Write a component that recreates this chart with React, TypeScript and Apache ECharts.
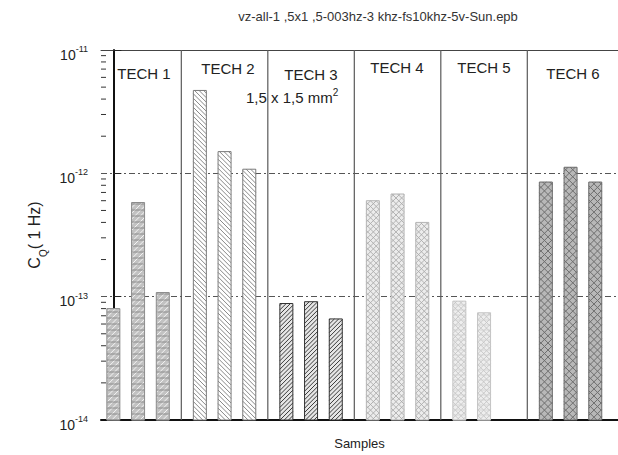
import React, { useEffect, useRef } from "react";
import * as echarts from "echarts";

// ---------- data ----------
const techNames = ["TECH 1", "TECH 2", "TECH 3", "TECH 4", "TECH 5", "TECH 6"];
const tech1 = [8.0e-14, 5.8e-13, 1.08e-13];
const tech2 = [4.7e-12, 1.5e-12, 1.08e-12];
const tech3 = [8.8e-14, 9.1e-14, 6.6e-14];
const tech4 = [6.0e-13, 6.8e-13, 4.0e-13];
const tech5 = [9.2e-14, 7.4e-14];
const tech6 = [8.5e-13, 1.12e-12, 8.5e-13];
const techValues = [tech1, tech2, tech3, tech4, tech5, tech6];
const yTickExponents = [-14, -13, -12, -11];
const titleText = "vz-all-1 ,5x1 ,5-003hz-3 khz-fs10khz-5v-Sun.epb";
const sizeNote = "1,5 x 1,5 mm";
const xName = "Samples";

// ---------- layout constants ----------
const Y_MIN = 1e-14;
const Y_MAX = 1e-11;
const GROUP_STEP = 3.5;
const BAR_SLOTS = 3;
const X_MIN = -0.5;
const X_MAX = 20.42;
const BAR_W = 13;
const FONT = "'Liberation Sans', Arial, sans-serif";

type Family = { angle: number; gap: number; color: string; width: number };
type Pat = { fill: string; border: string; lines: Family[] };
const patterns: Pat[] = [
  {
    fill: "#c2c2c2",
    border: "#8c8c8c",
    lines: [
      { angle: -45, gap: 4, color: "#f4f4f4", width: 1 },
      { angle: 0, gap: 6, color: "#808080", width: 0.8 },
    ],
  },
  {
    fill: "#ffffff",
    border: "#7a7a7a",
    lines: [{ angle: 45, gap: 3.2, color: "#7a7a7a", width: 0.9 }],
  },
  {
    fill: "#e6e6e6",
    border: "#333333",
    lines: [{ angle: -45, gap: 3, color: "#3a3a3a", width: 1 }],
  },
  {
    fill: "#ececec",
    border: "#b5b5b5",
    lines: [
      { angle: 45, gap: 4, color: "#acacac", width: 0.9 },
      { angle: -45, gap: 4, color: "#acacac", width: 0.9 },
    ],
  },
  {
    fill: "#eeeeee",
    border: "#c4c4c4",
    lines: [
      { angle: 45, gap: 4, color: "#c0c0c0", width: 0.8 },
      { angle: -45, gap: 4, color: "#c0c0c0", width: 0.8 },
      { angle: 0, gap: 5, color: "#cfcfcf", width: 0.8 },
    ],
  },
  {
    fill: "#b8b8b8",
    border: "#6a6a6a",
    lines: [
      { angle: 45, gap: 5, color: "#6e6e6e", width: 1 },
      { angle: -45, gap: 5, color: "#6e6e6e", width: 1 },
    ],
  },
];

function hatch(x0: number, y0: number, w: number, h: number, f: Family) {
  const a = (f.angle * Math.PI) / 180;
  const dx = Math.cos(a);
  const dy = Math.sin(a);
  const nx = -dy;
  const ny = dx;
  const cs = [
    [x0, y0],
    [x0 + w, y0],
    [x0, y0 + h],
    [x0 + w, y0 + h],
  ].map(([px, py]) => nx * px + ny * py);
  const cmin = Math.min(...cs);
  const cmax = Math.max(...cs);
  const out: any[] = [];
  for (let c = Math.ceil(cmin / f.gap) * f.gap; c <= cmax; c += f.gap) {
    const px = nx * c;
    const py = ny * c;
    let t0 = -1e9;
    let t1 = 1e9;
    let ok = true;
    const clip = (d: number, p: number, lo: number, hi: number) => {
      if (Math.abs(d) < 1e-9) {
        if (p < lo || p > hi) ok = false;
        return;
      }
      const ta = (lo - p) / d;
      const tb = (hi - p) / d;
      t0 = Math.max(t0, Math.min(ta, tb));
      t1 = Math.min(t1, Math.max(ta, tb));
    };
    clip(dx, px, x0, x0 + w);
    clip(dy, py, y0, y0 + h);
    if (!ok || t1 - t0 < 0.3) continue;
    out.push({
      type: "line",
      shape: { x1: px + t0 * dx, y1: py + t0 * dy, x2: px + t1 * dx, y2: py + t1 * dy },
      style: { stroke: f.color, lineWidth: f.width },
      silent: true,
    });
  }
  return out;
}

const supRich = (size: number, supSize: number) => ({
  b: { fontFamily: FONT, fontSize: size, color: "#222", fill: "#222", lineHeight: 17, verticalAlign: "bottom" },
  s: { fontFamily: FONT, fontSize: supSize, color: "#222", fill: "#222", lineHeight: 17, verticalAlign: "top" },
});

export default function App() {
  const ref = useRef<HTMLDivElement>(null);
  useEffect(() => {
    if (!ref.current) return;
    const chart = echarts.init(ref.current, undefined, { renderer: "svg" });

    const barData: number[][] = [];
    techValues.forEach((vals, g) =>
      vals.forEach((v, j) => barData.push([g * GROUP_STEP + j, v, g]))
    );
    const sepData: number[][] = [];
    for (let g = 0; g < techNames.length - 1; g++) {
      sepData.push([g * GROUP_STEP + (BAR_SLOTS - 1) + (GROUP_STEP - (BAR_SLOTS - 1)) / 2, Y_MIN]);
    }
    const minorData: number[][] = [];
    for (let e = yTickExponents[0]; e < yTickExponents[yTickExponents.length - 1]; e++) {
      for (let m = 2; m <= 9; m++) minorData.push([X_MIN, m * Math.pow(10, e)]);
    }

    const techPos = [
      [144, 73],
      [228, 68],
      [311, 74],
      [397, 67],
      [484, 67],
      [573, 73],
    ];

    chart.setOption({
      animation: false,
      grid: {
        left: 101,
        top: 50,
        bottom: 34,
        right: 0,
        show: false,
      },
      xAxis: [
        {
          type: "value",
          min: X_MIN,
          max: X_MAX,
          name: xName,
          nameLocation: "middle",
          nameGap: 17,
          nameTextStyle: { fontFamily: FONT, fontSize: 13, color: "#222" },
          axisLine: { show: true, onZero: false, lineStyle: { color: "#111", width: 2 } },
          axisTick: { show: false },
          axisLabel: { show: false },
          splitLine: { show: false },
        },
        {
          type: "value",
          position: "top",
          min: X_MIN,
          max: X_MAX,
          axisLine: { show: true, onZero: false, lineStyle: { color: "#444", width: 1 } },
          axisTick: { show: false },
          axisLabel: { show: false },
          splitLine: { show: false },
        },
      ],
      yAxis: {
        type: "log",
        logBase: 10,
        min: Y_MIN,
        max: Y_MAX,
        name: "{c|C}{q|Q}{c|( 1 Hz)}",
        nameLocation: "middle",
        nameGap: 46,
        nameTextStyle: {
          rich: {
            c: { fontFamily: FONT, fontSize: 16, color: "#222", lineHeight: 22, verticalAlign: "top" },
            q: { fontFamily: FONT, fontSize: 10, color: "#222", lineHeight: 22, verticalAlign: "bottom" },
          },
        },
        axisLine: { show: true, lineStyle: { color: "#111", width: 2 } },
        axisTick: { show: true, inside: true, length: 8, lineStyle: { color: "#222", width: 1 } },
        axisLabel: {
          margin: 13,
          padding: [6, 0, 0, 0],
          formatter: (v: number) => `{b|10}{s|${Math.round(Math.log10(v))}}`,
          rich: supRich(14, 9),
        },
        splitLine: {
          show: true,
          lineStyle: { color: "#555", width: 1, type: [6, 3, 2, 3] },
        },
      },
      graphic: [
        {
          type: "text",
          x: 378,
          y: 16,
          style: {
            text: titleText,
            fontFamily: FONT,
            fontSize: 13,
            fill: "#333",
            textAlign: "center",
            textVerticalAlign: "middle",
          },
        },
        ...techNames.map((t, i) => ({
          type: "text",
          x: techPos[i][0],
          y: techPos[i][1],
          style: {
            text: t,
            fontFamily: FONT,
            fontSize: 15,
            fill: "#222",
            textAlign: "center",
            textVerticalAlign: "middle",
          },
        })),
        {
          type: "text",
          x: 246,
          y: 96,
          style: {
            text: `{b|${sizeNote}}{s|2}`,
            rich: supRich(15, 10),
            textAlign: "left",
            textVerticalAlign: "middle",
          },
        },
      ],
      series: [
        {
          type: "custom",
          name: "separators",
          silent: true,
          encode: { x: 0, y: 1 },
          data: sepData,
          z: 1,
          renderItem: (params: any, api: any) => {
            const x = api.value(0);
            const p1 = api.coord([x, Y_MAX]);
            const p2 = api.coord([x, Y_MIN]);
            return {
              type: "line",
              shape: { x1: p1[0], y1: p1[1], x2: p2[0], y2: p2[1] },
              style: { stroke: "#5a5a5a", lineWidth: 1.2 },
            };
          },
        },
        {
          type: "custom",
          name: "minorTicks",
          silent: true,
          encode: { x: 0, y: 1 },
          data: minorData,
          z: 5,
          clip: false,
          renderItem: (params: any, api: any) => {
            const p = api.coord([X_MIN, api.value(1)]);
            return {
              type: "line",
              shape: { x1: p[0], y1: p[1], x2: p[0] + 5, y2: p[1] },
              style: { stroke: "#333", lineWidth: 1 },
            };
          },
        },
        {
          type: "custom",
          name: "bars",
          silent: true,
          encode: { x: 0, y: 1 },
          data: barData,
          z: 2,
          renderItem: (params: any, api: any) => {
            const x = api.value(0);
            const v = api.value(1);
            const g = api.value(2);
            const top = api.coord([x, v]);
            const base = api.coord([x, Y_MIN]);
            const x0 = top[0] - BAR_W / 2;
            const y0 = top[1];
            const h = base[1] - top[1];
            const p = patterns[g];
            const children: any[] = [
              { type: "rect", shape: { x: x0, y: y0, width: BAR_W, height: h }, style: { fill: p.fill } },
            ];
            p.lines.forEach((f) => children.push(...hatch(x0, y0, BAR_W, h, f)));
            children.push({
              type: "rect",
              shape: { x: x0, y: y0, width: BAR_W, height: h },
              style: { fill: "none", stroke: p.border, lineWidth: 1 },
            });
            return { type: "group", children };
          },
        },
      ],
    });
    return () => chart.dispose();
  }, []);
  return (
    <div
      ref={ref}
      style={{ position: "fixed", left: 0, top: 0, width: 618, height: 455, background: "#fff" }}
    />
  );
}
